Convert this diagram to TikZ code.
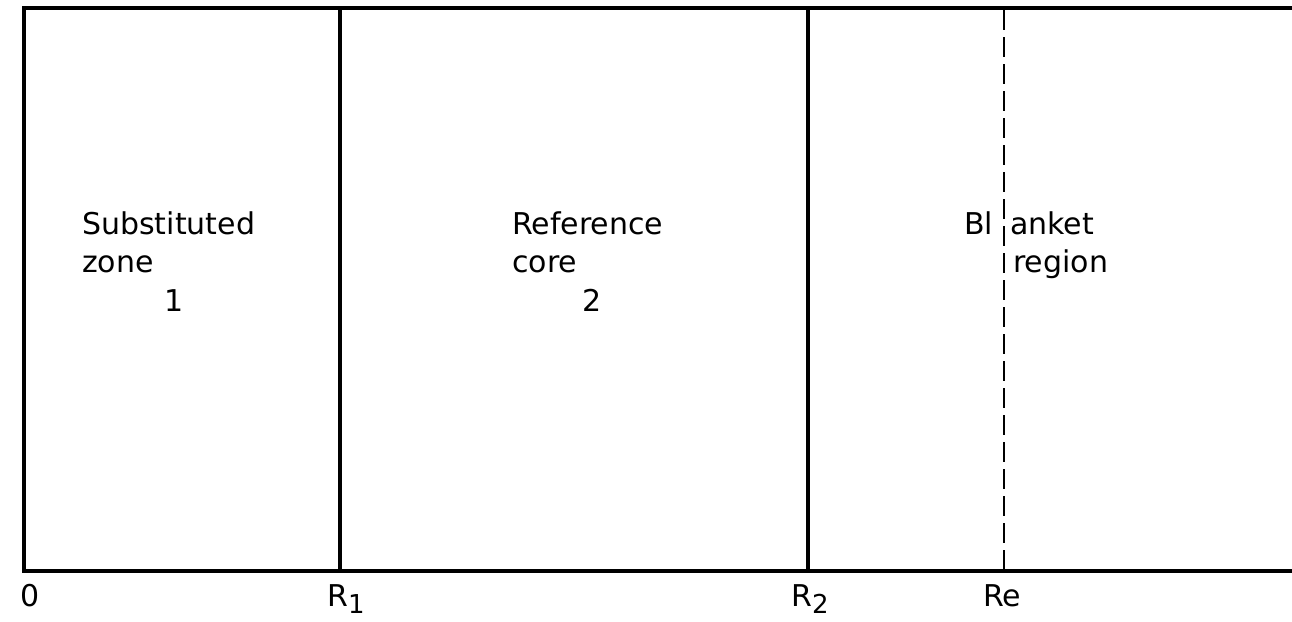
\documentclass[tikz,border=0pt]{standalone}
\usepackage{fontspec}
\setmainfont{DejaVu Sans}
\newcommand{\lowsub}[1]{{\fontsize{26}{30}\selectfont\raisebox{-7pt}{#1}}}
\begin{document}
\begin{tikzpicture}[x=1pt,y=-1pt,
  frame/.style={line width=4.5pt},
  wall/.style={line width=3.5pt},
  dashwall/.style={line width=2.5pt, dash pattern=on 20pt off 7pt},
  lbl/.style={font=\fontsize{30}{36}\selectfont, inner sep=0pt, anchor=base west, align=left},
  axl/.style={font=\fontsize{30}{36}\selectfont, inner sep=0pt, anchor=base west}]
\useasboundingbox (0,0) rectangle (1292,621);
\coordinate (tl) at (24,8);
\coordinate (bl) at (24,571);
\coordinate (tr) at (1292,8);
\coordinate (br) at (1292,571);
\coordinate (r1t) at (340,8);
\coordinate (r1b) at (340,571);
\coordinate (r2t) at (808,8);
\coordinate (r2b) at (808,571);
\coordinate (ret) at (1004,10);
\coordinate (reb) at (1004,571);
\draw[frame] (tr) -- (tl) -- (bl) -- (br);
\draw[wall] (r1t) -- (r1b);
\draw[wall] (r2t) -- (r2b);
\draw[dashwall] (ret) -- (reb);
\node[lbl] (s1) at (82,234) {Substituted};
\node[lbl] (s2) at (82,272) {zone};
\node[lbl] (s3) at (164,311) {1};
\node[lbl] (c1) at (512,234) {Reference};
\node[lbl] (c2) at (512,272) {core};
\node[lbl] (c3) at (582,311) {2};
\node[lbl] (b1) at (964,234) {Bl};
\node[lbl] (b2) at (1010,234) {anket};
\node[lbl] (b3) at (1013,272) {region};
\node[axl] (a0) at (20,606) {0};
\node[axl] (a1) at (327,606) {R\lowsub{1}};
\node[axl] (a2) at (791,606) {R\lowsub{2}};
\node[axl] (a3) at (983,606) {Re};
\end{tikzpicture}
\end{document}
